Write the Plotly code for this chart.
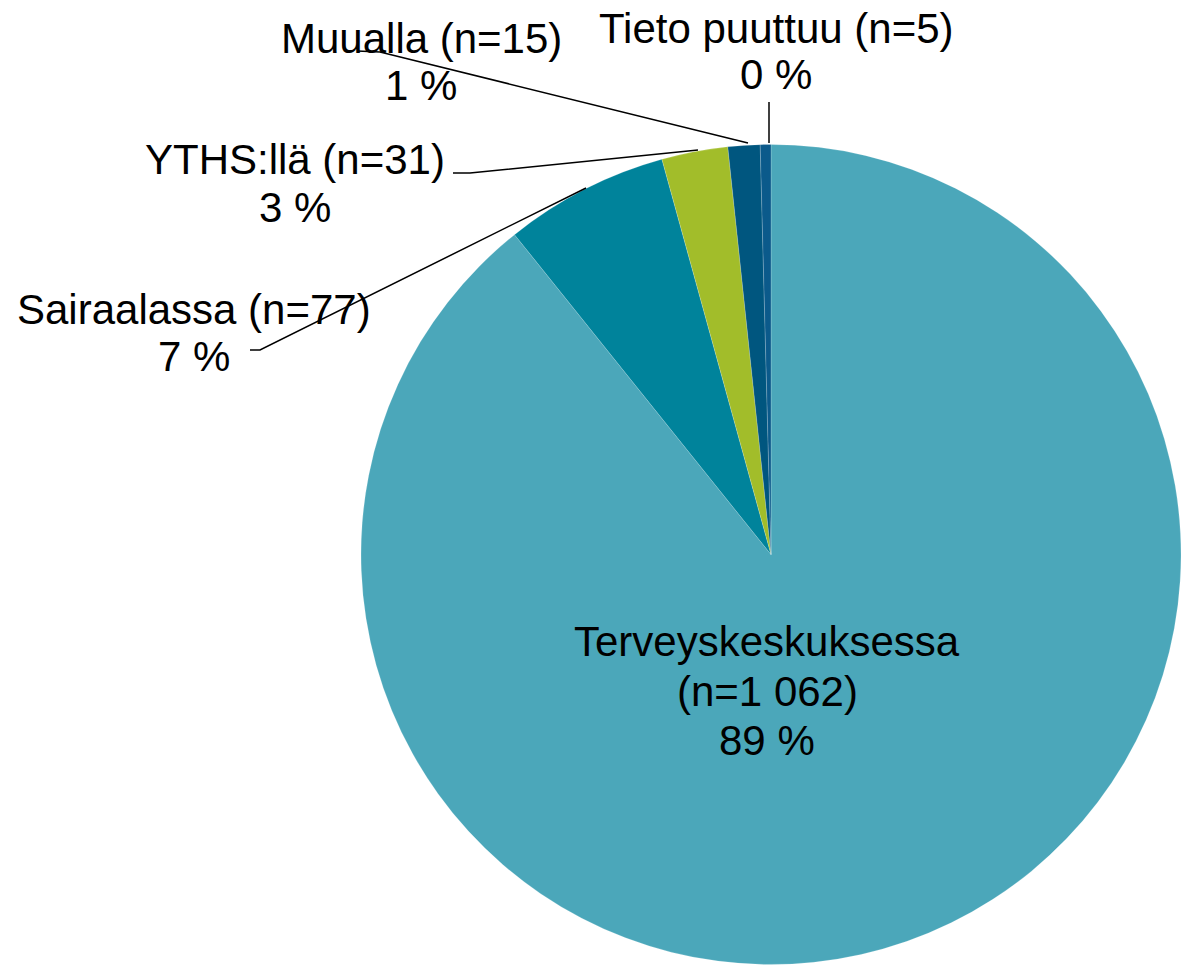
import plotly.graph_objects as go

W, H = 1181, 968

categories = ["Terveyskeskuksessa", "Sairaalassa", "YTHS:llä", "Muualla", "Tieto puuttuu"]
counts = [1062, 77, 31, 15, 5]
count_labels = ["(n=1 062)", "(n=77)", "(n=31)", "(n=15)", "(n=5)"]
percent_labels = ["89 %", "7 %", "3 %", "1 %", "0 %"]
colors = ["#4BA7BA", "#00839B", "#A2BD2A", "#00567F", "#0B5A8B"]

FONT = "Liberation Sans, Arial, sans-serif"
FS = 42

def px(x):
    return x / W

def py(y):
    return 1 - y / H

fig = go.Figure()
fig.add_trace(go.Pie(
    labels=categories,
    values=counts,
    sort=False,
    direction="clockwise",
    rotation=0,
    textinfo="none",
    hoverinfo="label+value+percent",
    marker=dict(colors=colors, line=dict(color="rgba(255,255,255,0.35)", width=0.5)),
    domain=dict(x=[361 / W, 1.0], y=[2 / H, 825 / H]),
    showlegend=False,
))

# label lines: (text lines, center x, center y of each line)
label_layout = {
    "Terveyskeskuksessa": ([categories[0], count_labels[0], percent_labels[0]], 767, [641, 691, 740]),
    "Sairaalassa": ([f"{categories[1]} {count_labels[1]}", percent_labels[1]], 194, [309, 356]),
    "YTHS:llä": ([f"{categories[2]} {count_labels[2]}", percent_labels[2]], 295, [159, 208]),
    "Muualla": ([f"{categories[3]} {count_labels[3]}", percent_labels[3]], 421, [38, 86]),
    "Tieto puuttuu": ([f"{categories[4]} {count_labels[4]}", percent_labels[4]], 776, [28, 75]),
}

annotations = []
for key, (lines, cx, cys) in label_layout.items():
    for t, cy in zip(lines, cys):
        annotations.append(dict(
            x=px(cx), y=py(cy), xref="paper", yref="paper",
            text=t, showarrow=False, xanchor="center", yanchor="middle",
            font=dict(family=FONT, size=FS, color="#000000"),
        ))

leaders = [
    [(250, 350), (260, 350), (586, 188)],
    [(453, 173), (470, 173), (698, 150)],
    [(357, 51), (380, 52), (748, 143)],
    [(769, 102), (769, 143)],
]
shapes = []
for pts in leaders:
    path = "M " + " L ".join(f"{px(x)} {py(y)}" for x, y in pts)
    shapes.append(dict(type="path", xref="paper", yref="paper", path=path,
                       line=dict(color="#000000", width=1.5)))

fig.update_layout(
    width=W, height=H,
    margin=dict(l=0, r=0, t=0, b=0),
    paper_bgcolor="white", plot_bgcolor="white",
    annotations=annotations,
    shapes=shapes,
)

fig.write_html(
    "out.html",
    config={"displayModeBar": False},
    post_script="document.body.style.margin='0';document.body.style.overflow='hidden';",
)
